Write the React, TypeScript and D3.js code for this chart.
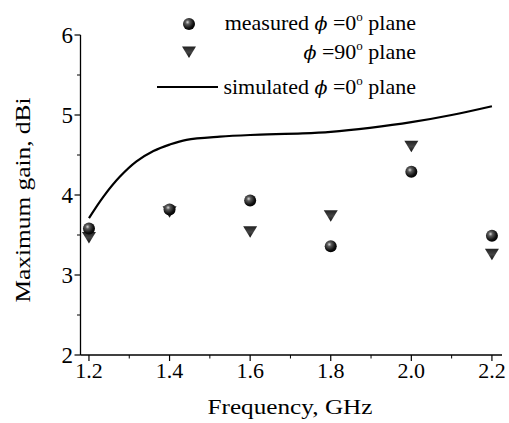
import React from "react";
import * as d3 from "d3";

const freqs = [1.2, 1.4, 1.6, 1.8, 2.0, 2.2];
const measured0 = [3.58, 3.82, 3.93, 3.36, 4.29, 3.49];
const measured90 = [3.47, 3.79, 3.54, 3.74, 4.61, 3.26];
const simFreq = [1.2, 1.236, 1.277, 1.318, 1.36, 1.4, 1.442, 1.525, 1.6, 1.73, 1.8, 1.897, 2.0, 2.1, 2.2];
const simGain = [3.71, 3.98, 4.23, 4.42, 4.55, 4.63, 4.69, 4.73, 4.75, 4.77, 4.79, 4.84, 4.91, 5.0, 5.11];
const xTicks = [1.2, 1.4, 1.6, 1.8, 2.0, 2.2];
const xMinor = [1.3, 1.5, 1.7, 1.9, 2.1];
const yTicks = [2, 3, 4, 5, 6];
const yMinor = [2.5, 3.5, 4.5, 5.5];

const W = 509, H = 423;
const FONT = "'Liberation Serif', 'Times New Roman', serif";

export default function App() {
  const x = d3.scaleLinear().domain([1.179, 2.225]).range([80.5, 502]);
  const y = d3.scaleLinear().domain([2, 6]).range([355, 35]);
  const line = d3
    .line<number>()
    .x((_, i) => x(simFreq[i]))
    .y((d) => y(d))
    .curve(d3.curveCatmullRom.alpha(0.5));
  const tri = (cx: number, cy: number, s = 7) =>
    `M${cx - s},${cy - 5.5} L${cx + s},${cy - 5.5} L${cx},${cy + 6} Z`;
  const phi = <tspan fontStyle="italic" fontFamily="'DejaVu Serif', serif" fontWeight={300} fontSize={19}>ϕ</tspan>;
  const deg = <tspan dy={-9} fontSize={13}>o</tspan>;
  const Legend = ({ yy, pre, num }: { yy: number; pre: string; num: string }) => (
    <text x={416} y={yy} fontSize={22} textAnchor="end">
      {pre}{phi} ={num}{deg}<tspan dy={9}> plane</tspan>
    </text>
  );
  return (
    <svg width={W} height={H} style={{ position: "absolute", left: 0, top: 0 }} fontFamily={FONT}>
      <defs>
        <radialGradient id="ball" cx="0.38" cy="0.35" r="0.7">
          <stop offset="0" stopColor="#d8d8d8" />
          <stop offset="0.25" stopColor="#5a5a5a" />
          <stop offset="0.7" stopColor="#111" />
          <stop offset="1" stopColor="#000" />
        </radialGradient>
        <linearGradient id="triG" x1="0" y1="0" x2="0" y2="1">
          <stop offset="0" stopColor="#222" />
          <stop offset="0.5" stopColor="#444" />
          <stop offset="1" stopColor="#111" />
        </linearGradient>
      </defs>
      <rect width={W} height={H} fill="#fff" />
      <line x1={x.range()[0]} x2={x.range()[1]} y1={355} y2={355} stroke="#000" strokeWidth={1.3} />
      <line x1={80.5} x2={80.5} y1={y(6)} y2={355} stroke="#000" strokeWidth={1.3} />
      {xTicks.map((t) => (
        <g key={"xt" + t}>
          <line x1={x(t)} x2={x(t)} y1={355} y2={361} stroke="#000" strokeWidth={1.2} />
          <text x={x(t)} y={378} fontSize={22} textAnchor="middle">{t.toFixed(1)}</text>
        </g>
      ))}
      {xMinor.map((t) => (
        <line key={"xm" + t} x1={x(t)} x2={x(t)} y1={355} y2={358.5} stroke="#000" strokeWidth={1} />
      ))}
      {yTicks.map((t) => (
        <g key={"yt" + t}>
          <line x1={74.5} x2={80.5} y1={y(t)} y2={y(t)} stroke="#000" strokeWidth={1.2} />
          <text x={73} y={y(t) + 7.5} fontSize={23} textAnchor="end">{t}</text>
        </g>
      ))}
      {yMinor.map((t) => (
        <line key={"ym" + t} x1={77} x2={80.5} y1={y(t)} y2={y(t)} stroke="#000" strokeWidth={1} />
      ))}
      <text x={290} y={414} fontSize={22} textAnchor="middle" textLength={165} lengthAdjust="spacingAndGlyphs">Frequency, GHz</text>
      <text transform={`translate(30,200) rotate(-90)`} fontSize={22} textAnchor="middle" textLength={205} lengthAdjust="spacingAndGlyphs">Maximum gain, dBi</text>
      <path d={line(simGain) || ""} fill="none" stroke="#000" strokeWidth={2.2} />
      {freqs.map((f, i) => (
        <path key={"t" + f} d={tri(x(f), y(measured90[i]))} fill="url(#triG)" />
      ))}
      {freqs.map((f, i) => (
        <circle key={"c" + f} cx={x(f)} cy={y(measured0[i])} r={6} fill="url(#ball)" />
      ))}
      <circle cx={189} cy={24} r={6} fill="url(#ball)" />
      <path d={tri(189, 52)} fill="url(#triG)" />
      <line x1={157} x2={218} y1={87} y2={87} stroke="#000" strokeWidth={2} />
      <Legend yy={30} pre="measured " num="0" />
      <Legend yy={59} pre="" num="90" />
      <Legend yy={94} pre="simulated " num="0" />
    </svg>
  );
}
